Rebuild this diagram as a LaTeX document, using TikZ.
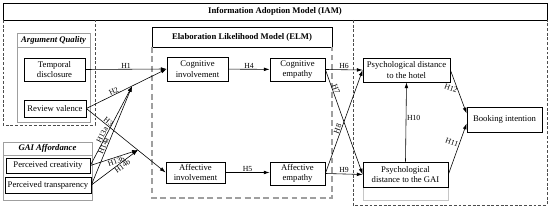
\documentclass[tikz,border=0pt]{standalone}
\usepackage{fontspec}
\setmainfont{Liberation Serif}
\usetikzlibrary{arrows.meta, positioning}

\begin{document}
\begin{tikzpicture}[
  x=0.03cm, y=-0.03cm,
  font=\fontsize{7.4}{9}\selectfont,
  box/.style={draw, line width=0.6pt, align=center, inner sep=1pt},
  grp/.style={draw=gray!75, line width=0.6pt},
  region/.style={draw=gray!60!black, line width=0.5pt, dash pattern=on 2.5pt off 1.5pt},
  elmline/.style={draw=gray!75, line width=1.1pt, dash pattern=on 5pt off 3pt},
  arr/.style={-{Latex[length=5pt,width=3.2pt]}, line width=0.5pt},
  lbl/.style={font=\fontsize{6.6}{7}\selectfont, inner sep=0.6pt},
  heading/.style={font=\fontsize{7.4}{9}\selectfont\bfseries},
  subhead/.style={font=\fontsize{7.4}{9}\selectfont\bfseries\itshape}
]
  \useasboundingbox (0,0) rectangle (550,209);

  % IAM frame
  \draw[line width=0.6pt] (3,3) rectangle (547,20);
  \node[heading] (iam) at (275,11.5) {Information Adoption Model (IAM)};
  \draw[region] (3,20) -- (3,125) -- (95,125) -- (95,20);
  \draw[region] (353,20) -- (353,205) -- (547,205) -- (547,20);

  % ELM frame
  \draw[line width=0.6pt] (152,27) rectangle (332,47);
  \node[heading] (elm) at (242,37) {Elaboration Likelihood Model (ELM)};
  \draw[elmline] (152,47) -- (152,198) -- (332,198) -- (332,47);

  % Argument quality
  \draw[grp] (17,33) rectangle (90,122);
  \draw[grp] (17,47) -- (90,47);
  \node[subhead] (aq) at (53.5,40) {Argument Quality};
  \node[box, minimum width=1.83cm, minimum height=0.69cm] (tempdisc) at (54.5,69.5) {Temporal\\disclosure};
  \node[box, minimum width=1.86cm, minimum height=0.51cm] (revval) at (55,108.5) {Review valence};

  % GAI affordance
  \draw[grp] (3,142) rectangle (92,200);
  \draw[grp] (3,155) -- (92,155);
  \node[subhead] (gai) at (47.5,148.5) {GAI Affordance};
  \node[box, minimum width=2.52cm, minimum height=0.45cm] (percre) at (48,165.5) {Perceived creativity};
  \node[box, minimum width=2.58cm, minimum height=0.48cm] (pertra) at (48,185) {Perceived transparency};

  % ELM nodes
  \node[box, minimum width=1.83cm, minimum height=0.72cm] (coginv) at (197.5,69) {Cognitive\\involvement};
  \node[box, minimum width=1.65cm, minimum height=0.69cm] (cogemp) at (297.5,69.5) {Cognitive\\empathy};
  \node[box, minimum width=1.77cm, minimum height=0.63cm] (affinv) at (195.5,172.5) {Affective\\involvement};
  \node[box, minimum width=1.65cm, minimum height=0.69cm] (affemp) at (297.5,173.5) {Affective\\empathy};

  % distances and outcome
  \draw[gray!45, line width=0.6pt] (363,187) -- (363,200) -- (448,200) -- (448,187);
  \node[box, minimum width=2.61cm, minimum height=0.72cm] (psyhot) at (406.5,70) {Psychological distance\\to the hotel};
  \node[box, minimum width=2.55cm, minimum height=0.75cm] (psygai) at (405.5,174.5) {Psychological\\distance to the GAI};
  \node[box, minimum width=2.25cm, minimum height=0.75cm] (booking) at (504.5,119.5) {Booking intention};

  % paths
  \draw[arr] (tempdisc.east) -- node[lbl, above] {H1} (coginv.west);
  \draw[arr] (revval.east) -- node[lbl, above, sloped, pos=0.36] {H2} coordinate[pos=0.57] (m2) (coginv.west);
  \draw[arr] (revval.east) -- node[lbl, above, sloped, pos=0.25] {H3} coordinate[pos=0.65] (m3) (affinv.west);
  \draw[arr] (coginv) -- node[lbl, above] {H4} (cogemp);
  \draw[arr] (affinv.east) -- node[lbl, above] {H5} (affemp.west |- affinv.east);
  \draw[arr] (cogemp.east) -- node[lbl, above] {H6} (psyhot.west);
  \draw[arr] (cogemp.east) -- node[lbl, above, sloped, pos=0.2] {H7} (psygai.west);
  \draw[arr] (affemp.east) -- node[lbl, above, sloped, pos=0.42] {H8} (psyhot.west);
  \draw[arr] (affemp.east) -- node[lbl, above] {H9} (psygai.west);
  \draw[arr] (psygai.north) -- node[lbl, right, pos=0.55] {H10} (psyhot.south);
  \draw[arr] (psygai.east) -- node[lbl, left, rotate=-20, pos=0.58] {H11} (booking.186);
  \draw[arr] (psyhot.east) -- node[lbl, left, rotate=-20, pos=0.48] {H12} (booking.171);

  % moderation by GAI affordance
  \draw[arr] (percre.east) -- node[lbl, above, sloped, pos=0.36] {H13a} (m2);
  \draw[arr] (pertra.east) -- node[lbl, above, sloped, pos=0.38] {H14a} (m2);
  \draw[arr] (percre.east) -- node[lbl, below, sloped, pos=0.52] {H13b} (m3);
  \draw[arr] (pertra.east) -- node[lbl, below, sloped, pos=0.62] {H14b} (m3);
\end{tikzpicture}
\end{document}
